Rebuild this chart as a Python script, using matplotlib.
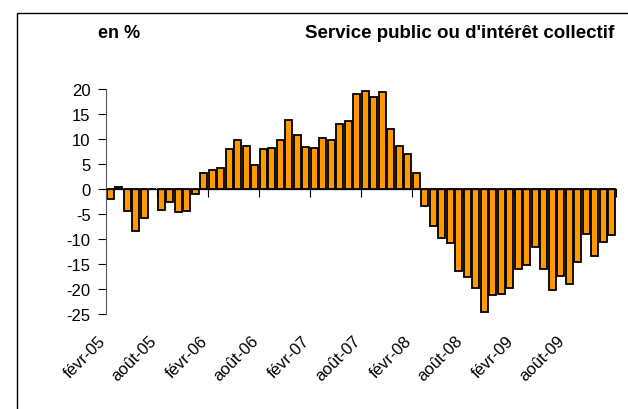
import matplotlib
matplotlib.use('Agg')
import matplotlib.pyplot as plt
import matplotlib.transforms as mtransforms
from matplotlib.patches import Rectangle

plt.rcParams['font.family'] = ['Liberation Sans', 'DejaVu Sans']
plt.rcParams['font.size'] = 12
plt.rcParams['axes.unicode_minus'] = False

# months from févr-05 to janv-10
month_names = ['janv', 'févr', 'mars', 'avr', 'mai', 'juin',
               'juil', 'août', 'sept', 'oct', 'nov', 'déc']
months = [f'{month_names[m]}-{y:02d}' for y in range(5, 11) for m in range(12)][1:61]

values = [-2.0, 0.45, -4.3, -8.3, -5.7, 0.0, -4.1, -2.5, -4.5, -4.4,
          -0.9, 3.3, 3.8, 4.3, 8.0, 9.8, 8.7, 4.8, 8.0, 8.3,
          9.8, 13.8, 10.8, 8.5, 8.2, 10.3, 9.8, 13.0, 13.7, 19.1,
          19.7, 18.5, 19.5, 12.0, 8.7, 7.0, 3.3, -3.4, -7.3, -9.7,
          -10.8, -16.3, -17.5, -19.7, -24.5, -21.2, -20.9, -19.7, -16.0, -15.2,
          -11.5, -16.0, -20.1, -17.3, -19.0, -14.5, -9.0, -13.3, -10.5, -9.2]

yticks = [20, 15, 10, 5, 0, -5, -10, -15, -20, -25]

W, H = 628, 410
fig = plt.figure(figsize=(W / 100, H / 100), dpi=100)
ax = fig.add_axes([106 / W, 1 - 315 / H, 510 / W, 225 / H])

x = list(range(len(values)))
ax.bar(x, values, width=0.8, color='#FF9900', edgecolor='black', linewidth=1.3, zorder=2)

ax.set_xlim(-0.5, len(values) - 0.5)
ax.set_ylim(-25, 20)
ax.set_yticks(yticks)
ax.tick_params(axis='y', direction='out', length=6, width=0.8, pad=5, colors='black')

# category axis crosses at zero, tick marks between groups of 6 months
for s in ['top', 'right']:
    ax.spines[s].set_visible(False)
ax.spines['bottom'].set_position(('data', 0))
ax.spines['bottom'].set_linewidth(0.9)
ax.spines['left'].set_linewidth(0.8)
ax.spines['left'].set_color('#555555')
ax.set_xticks([i - 0.5 for i in range(0, len(values) + 1, 6)])
ax.tick_params(axis='x', direction='out', length=6, width=0.8, labelbottom=False)

# labels at the bottom of the plot
trans = mtransforms.blended_transform_factory(ax.transData, ax.transAxes)
trans = mtransforms.offset_copy(trans, fig=fig, x=-7, y=-24, units='dots')
for i in range(0, len(values), 6):
    ax.text(i, 0, months[i], transform=trans, rotation=45, ha='right', va='center',
            rotation_mode='anchor', fontsize=12)

fig.text(98 / W, 1 - 33 / H, 'en %', fontweight='bold', fontsize=13, va='center', ha='left')
fig.text(614 / W, 1 - 33 / H, "Service public ou d'intérêt collectif", fontweight='bold',
         fontsize=13.5, va='center', ha='right')

# outer frame (only top and left visible)
fig.add_artist(Rectangle((17 / W, -0.1), 1.2, 1.1 - 14 / H, transform=fig.transFigure,
                         fill=False, edgecolor='black', linewidth=1.0))

fig.savefig('out.png', dpi=100)
